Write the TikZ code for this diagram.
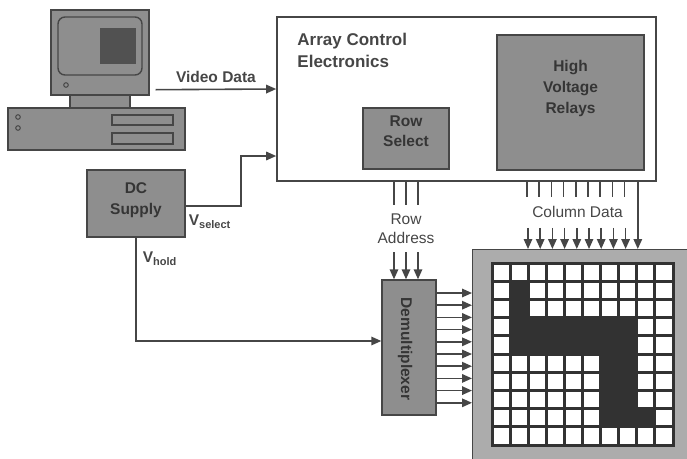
\documentclass[tikz,border=0pt]{standalone}
\usepackage{fontspec}
\setmainfont{Liberation Sans}
\usetikzlibrary{arrows.meta,positioning}

\definecolor{ink}{RGB}{70,70,70}
\definecolor{boxgray}{RGB}{142,142,142}
\definecolor{framegray}{RGB}{172,172,172}
\definecolor{cellgray}{RGB}{50,50,50}

\tikzset{
  shaded/.style={draw=ink, fill=boxgray, line width=1.4pt},
  boxtext/.style={font=\fontsize{15.5}{20.5}\selectfont\bfseries, align=center, text=ink!75!black},
  sig/.style={-{Triangle[length=10pt,width=8.5pt]}},
}

\begin{document}
\begin{tikzpicture}[x=1pt,y=-1pt,color=ink,line width=1.6pt,font=\fontsize{15.5}{19}\selectfont]
\useasboundingbox (0,0) rectangle (687,458);
% computer
\node[shaded, minimum width=98, minimum height=85] (monitor) at (100,52.5) {};
\draw[shaded, rounded corners=7pt] (58,17) rectangle (142,75);
\fill[cellgray!85!white] (100,28) rectangle (136,64);
\draw[line width=1pt] (66,85) circle (2.3);
\node[shaded, minimum width=60, minimum height=13] (neck) at (100,101.5) {};
\node[shaded, minimum width=177, minimum height=42] (base) at (96.5,129) {};
\draw[line width=1pt] (18,117) circle (2.3) (18,128) circle (2.3);
\draw[shaded] (112,115) rectangle (173,125) (112,133) rectangle (173,144);

% control electronics
\node[draw, minimum width=379, minimum height=164] (ace) at (466.5,99) {};
\node[anchor=north west, align=left, font=\fontsize{17}{21.5}\selectfont\bfseries] (acetitle) at (293.3,29.5) {Array Control\\Electronics};
\node[shaded, minimum width=86, minimum height=61] (rowsel) at (406,138.5) {};
\node[boxtext, below=4.3pt of rowsel.north] (rowseltext) {Row\\Select};
\node[shaded, minimum width=147, minimum height=135] (hvr) at (570.5,102.5) {};
\node[boxtext, font=\fontsize{15.5}{21}\selectfont\bfseries, below=22pt of hvr.north] (hvrtext) {High\\Voltage\\Relays};

% supply and demultiplexer
\node[shaded, minimum width=98, minimum height=67] (dc) at (136,203.5) {};
\node[boxtext, below=9.5pt of dc.north] (dctext) {DC\\Supply};
\node[shaded, minimum width=54, minimum height=135] (demux) at (409,347.5) {};
\node[boxtext, rotate=-90] (demuxtext) at (405,349) {Demultiplexer};

% display matrix
\node[draw=ink, fill=framegray, line width=1pt, anchor=north west, minimum width=222, minimum height=215] (mat) at (472,249) {};
\begin{scope}[shift={(492,263)}, x=18.1pt, y=-18.2pt]
  \fill[white] (0,0) rectangle (10,10);
  \fill[cellgray] (1,3) rectangle (8,5);
  \foreach \c/\r in {1/1,1/2,6/5,7/5,6/6,7/6,6/7,7/7,6/8,7/8,8/8}
    \fill[cellgray] (\c,\r) rectangle +(1,1);
  \foreach \k in {0,...,10}
    \draw[cellgray, line width=3pt, line cap=rect] (\k,0) -- (\k,10) (0,\k) -- (10,\k);
\end{scope}

% signals
\draw[sig] ([shift={(6pt,6pt)}]monitor.south east) -- ([yshift=10pt]ace.west)
  node[midway, above=3pt] (vdata) {\bfseries Video Data};
\draw[sig] ([yshift=-2.5pt]dc.east) -- ++(55,0) |- ([yshift=-57pt]ace.west);
\node[anchor=base west, inner sep=0pt] (vsel) at (188,225) {\bfseries V\raisebox{-3.5pt}{\fontsize{11}{12}\selectfont select}};
\draw[sig] (dc.south) |- ([yshift=6.5pt]demux.west);
\node[anchor=base west, inner sep=0pt] (vhold) at (142,262) {\bfseries V\raisebox{-3.5pt}{\fontsize{11}{12}\selectfont hold}};

\node[inner ysep=8pt, align=center] (raddr) at (406,228.5) {Row\\Address};
\foreach \x in {-12,0,12} {
  \draw ([xshift=\x pt]raddr.north |- ace.south) -- ([xshift=\x pt]raddr.north);
  \draw[sig] ([xshift=\x pt]raddr.south) -- ([xshift=\x pt]raddr.south |- demux.north);
}

\node[inner ysep=9pt] (cdata) at (577.5,212.4) {Column Data};
\foreach \x in {527,539.2,...,625}
  \draw (\x,0 |- ace.south) -- (\x,0 |- cdata.north);
\foreach \x in {528,540.2,...,638}
  \draw[sig] (\x,0 |- cdata.south) -- (\x,0 |- mat.north);
\draw (637.8,0 |- ace.south) -- (637.8,0 |- cdata.south);

\foreach \y in {293,305.2,...,404}
  \draw[sig] (demux.east |- 0,\y) -- (mat.west |- 0,\y);
\end{tikzpicture}
\end{document}
